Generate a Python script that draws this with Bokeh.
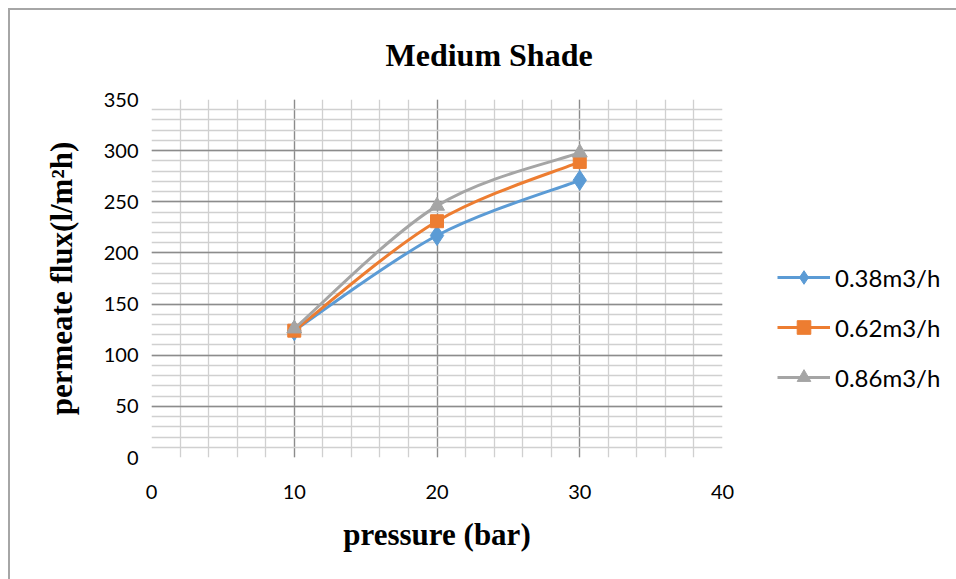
import numpy as np
from bokeh.plotting import figure
from bokeh.models import FixedTicker, Legend, LegendItem, ColumnDataSource
from bokeh.embed import file_html
from bokeh.resources import INLINE

pressure = [10, 20, 30]
flux_038 = [124, 217, 271]
flux_062 = [124, 231, 289]
flux_086 = [126, 246, 298]
series_names = ["0.38m3/h", "0.62m3/h", "0.86m3/h"]
colors = ["#5B9BD5", "#ED7D31", "#A5A5A5"]
markers = ["diamond", "square", "triangle"]
marker_sizes = [20, 13, 15]
x_ticks = [0, 10, 20, 30, 40]
y_ticks = [0, 50, 100, 150, 200, 250, 300, 350]

p = figure(width=946, height=569, output_backend="svg", toolbar_location=None,
           x_range=(0, 40), y_range=(0, 350),
           frame_width=571, frame_height=358,
           min_border_left=141, min_border_top=89, min_border_right=234, min_border_bottom=122,
           title="Medium Shade")
p.margin = (8, 0, 0, 8)
p.styles = {"border-left": "2px solid #A6A6A6", "border-top": "2px solid #A6A6A6"}
p.outline_line_color = None

p.title.align = "left"
p.title.offset = 234
p.title.vertical_align = "top"
p.title.standoff = 50
p.title.text_font = "Liberation Serif"
p.title.text_font_style = "bold"
p.title.text_font_size = "32px"
p.title.text_color = "#000000"

p.xaxis.ticker = FixedTicker(ticks=x_ticks, minor_ticks=list(range(0, 41, 2)))
p.yaxis.ticker = FixedTicker(ticks=y_ticks, minor_ticks=list(range(0, 351, 10)))
for ax in (p.xaxis, p.yaxis):
    ax.axis_line_color = None
    ax.major_tick_line_color = None
    ax.minor_tick_line_color = None
    ax.major_label_text_font = "Lato"
    ax.major_label_text_font_size = "20px"
    ax.major_label_text_color = "#000000"
    ax.axis_label_text_font = "Liberation Serif"
    ax.axis_label_text_font_style = "bold"
    ax.axis_label_text_font_size = "31px"
    ax.axis_label_text_color = "#000000"
p.xaxis.major_label_standoff = 21
p.yaxis.major_label_standoff = 7
p.xaxis.axis_label = "pressure (bar)"
p.yaxis.axis_label = "permeate flux(l/m²h)"
p.xaxis.axis_label_standoff = 15
p.yaxis.axis_label_standoff = 22

for g in (p.xgrid, p.ygrid):
    g.grid_line_color = "#8C8C8C"
    g.grid_line_width = 1.3
    g.minor_grid_line_color = "#D0D0D0"
    g.minor_grid_line_width = 1.3

items = []
for ys, name, c, m, s in zip([flux_038, flux_062, flux_086], series_names, colors, markers, marker_sizes):
    x = np.array(pressure, dtype=float)
    y = np.array(ys, dtype=float)
    n = len(x)
    xe = np.concatenate([[x[0]], x, [x[-1]]])
    ye = np.concatenate([[y[0]], y, [y[-1]]])
    src = ColumnDataSource(dict(
        x0=x[:-1], y0=y[:-1], x1=x[1:], y1=y[1:],
        cx0=x[:-1] + (xe[2:n + 1] - xe[0:n - 1]) / 6, cy0=y[:-1] + (ye[2:n + 1] - ye[0:n - 1]) / 6,
        cx1=x[1:] - (xe[3:n + 2] - xe[1:n]) / 6, cy1=y[1:] - (ye[3:n + 2] - ye[1:n]) / 6,
    ))
    p.bezier(x0="x0", y0="y0", x1="x1", y1="y1", cx0="cx0", cy0="cy0", cx1="cx1", cy1="cy1",
             source=src, line_color=c, line_width=3)
    proxy = p.line(x=[np.nan], y=[np.nan], line_color=c, line_width=3)
    sc = p.scatter(x=pressure, y=ys, marker=m, size=s, fill_color=c, line_color=c)
    items.append(LegendItem(label=name, renderers=[proxy, sc]))

legend = Legend(items=items, location=(55, 63), border_line_color=None,
                background_fill_alpha=0, label_text_font="Lato", label_text_font_size="24px",
                label_text_color="#000000", glyph_width=53, glyph_height=34, label_height=34,
                spacing=16, padding=0, margin=0, label_standoff=5)
p.add_layout(legend, "right")

open("out.html", "w").write(file_html(p, INLINE))
